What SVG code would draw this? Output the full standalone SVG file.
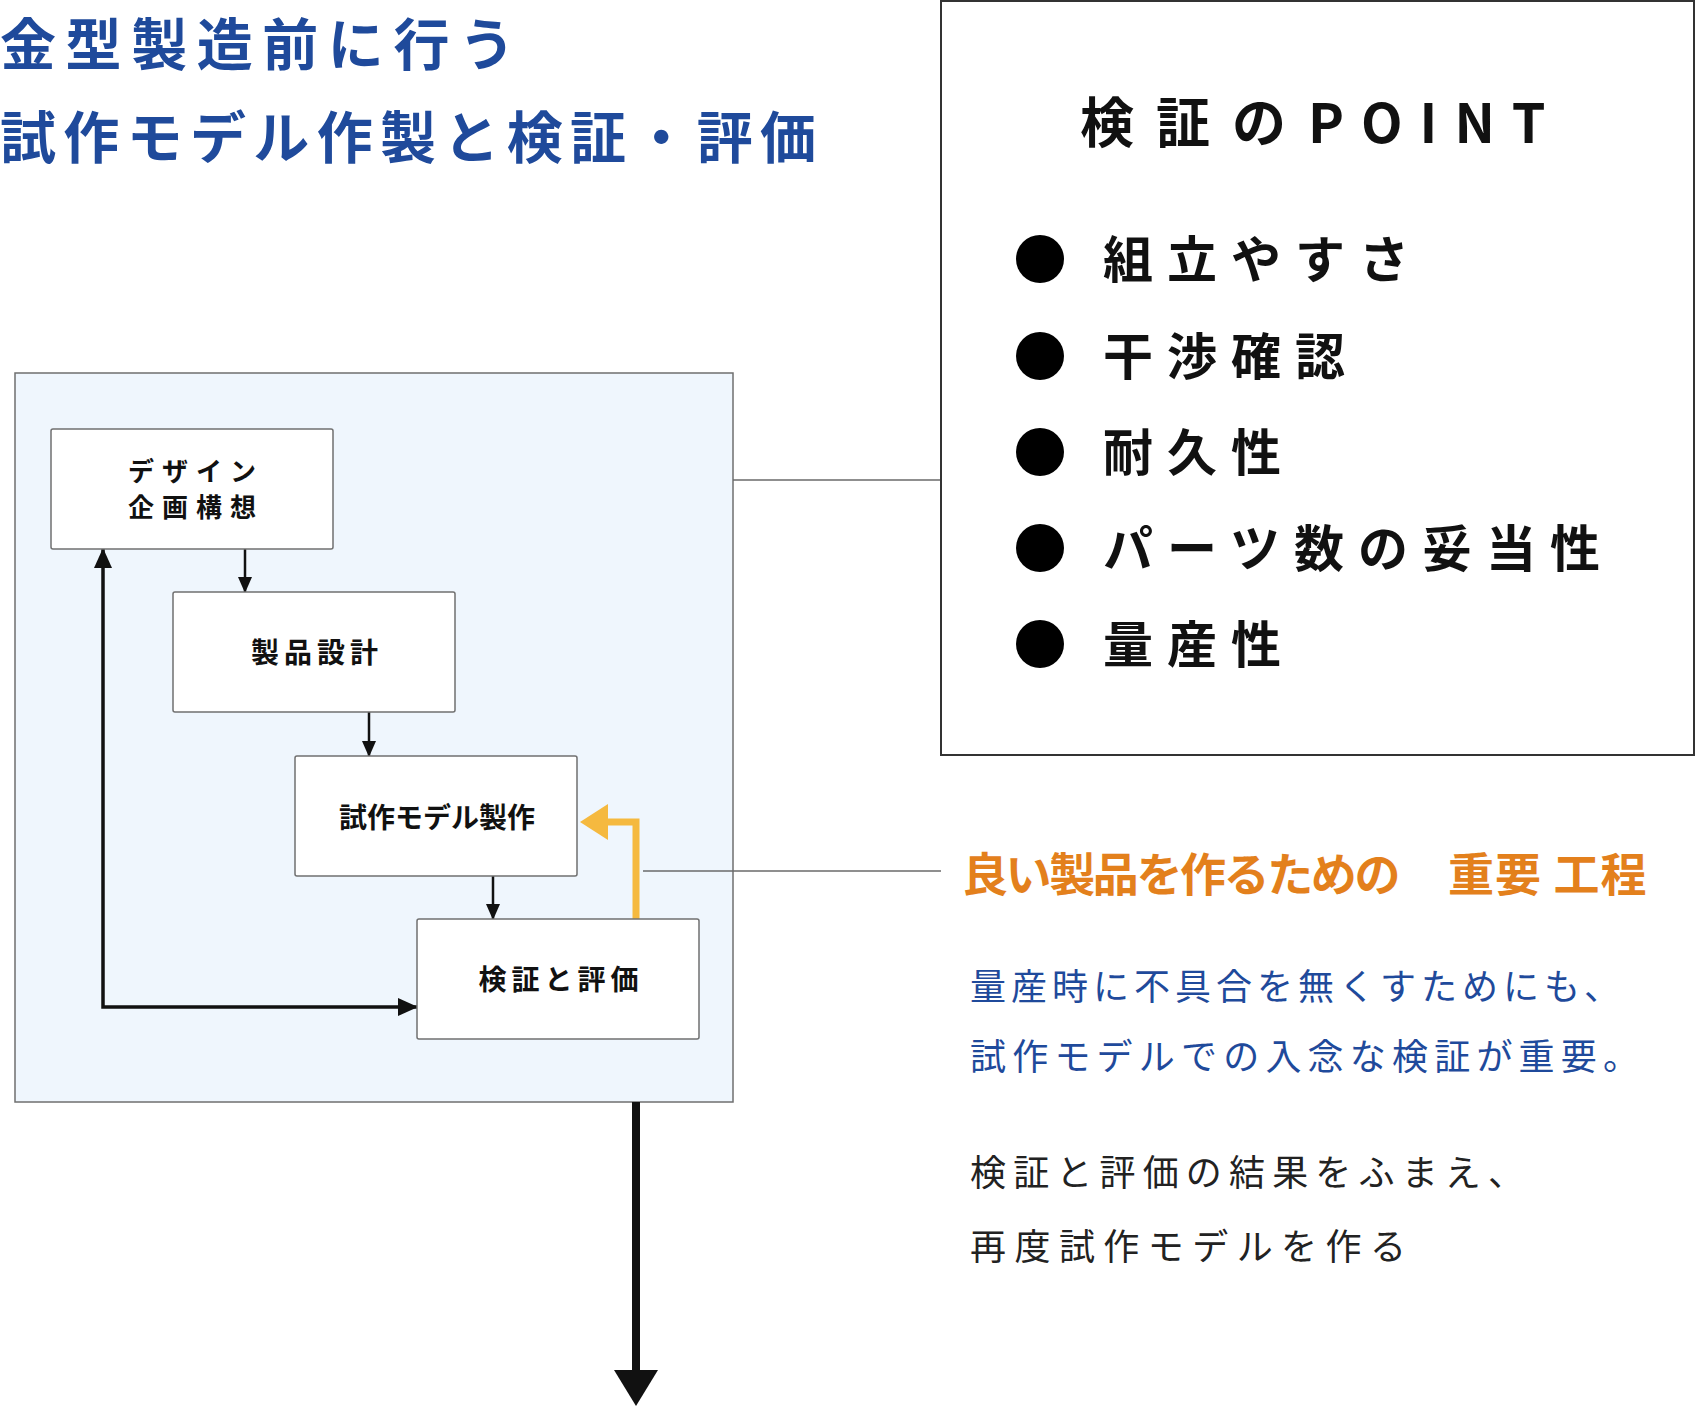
<svg xmlns="http://www.w3.org/2000/svg" width="1695" height="1408" viewBox="0 0 1695 1408">
<style>
text{font-family:"Noto Sans CJK JP","Noto Sans CJK SC",sans-serif}
.title{font-size:56px;font-weight:700;fill:#1f4a9b}
.node rect{fill:#fff;stroke:#707070;stroke-width:1.5}
.nt{font-size:28px;font-weight:700;fill:#111;text-anchor:middle}
.nt2{font-size:26px;font-weight:700;fill:#111;text-anchor:middle;letter-spacing:8px}
.thin{stroke:#111;stroke-width:2.5;fill:none}
.loop{stroke:#111;stroke-width:3.5;fill:none}
.lead{stroke:#6a6a6a;stroke-width:1.5;fill:none}
.orange{stroke:#f5b93f;stroke-width:7;fill:none}
.pt{font-size:54px;font-weight:700;fill:#111;letter-spacing:22px}
.item{font-size:50px;font-weight:700;fill:#111;letter-spacing:14px}
.bul{fill:#000}
.head{font-size:46px;font-weight:700;fill:#e3801c}
.blue{font-size:36px;fill:#1f4a9b}
.black{font-size:36px;fill:#222}
</style>
<defs>
<marker id="ah" markerUnits="userSpaceOnUse" markerWidth="16" markerHeight="16" viewBox="0 0 16 16" refX="15" refY="8" orient="auto"><path d="M0,1 L16,8 L0,15 z" fill="#111"/></marker>
<marker id="ahl" markerUnits="userSpaceOnUse" markerWidth="20" markerHeight="20" viewBox="0 0 20 20" refX="19" refY="10" orient="auto-start-reverse"><path d="M0,1 L20,10 L0,19 z" fill="#111"/></marker>
<marker id="aho" markerUnits="userSpaceOnUse" markerWidth="30" markerHeight="40" viewBox="0 0 30 40" refX="2" refY="20" orient="auto"><path d="M0,2 L28,20 L0,38 z" fill="#f5b93f"/></marker>
</defs>

<g id="titles">
<text class="title" x="0" y="65" textLength="515" lengthAdjust="spacing">金型製造前に行う</text>
<text class="title" x="0" y="158" textLength="816" lengthAdjust="spacing">試作モデル作製と検証・評価</text>
</g>

<g id="process-frame">
<rect x="15" y="373" width="718" height="729" fill="#eff6fd" stroke="#6f6f6f" stroke-width="1.5"/>
</g>

<g id="connectors">
<line class="thin" x1="245" y1="549" x2="245" y2="592" marker-end="url(#ah)"/>
<line class="thin" x1="369" y1="712" x2="369" y2="756" marker-end="url(#ah)"/>
<line class="thin" x1="493" y1="876" x2="493" y2="919" marker-end="url(#ah)"/>
<path class="loop" d="M417,1007 H103 V549" marker-start="url(#ahl)" marker-end="url(#ahl)"/>
<path class="orange" d="M636,919 V822 H606" marker-end="url(#aho)"/>
<line x1="636" y1="1102" x2="636" y2="1372" stroke="#111" stroke-width="8"/>
<polygon points="614,1370 658,1370 636,1406" fill="#111"/>
<line class="lead" x1="733" y1="480" x2="941" y2="480"/>
<line class="lead" x1="643" y1="871" x2="941" y2="871"/>
</g>

<g id="node-design" class="node">
<rect x="51" y="429" width="282" height="120" rx="2"/>
<text class="nt2" x="196" y="481">デザイン</text>
<text class="nt2" x="196" y="517">企画構想</text>
</g>
<g id="node-product" class="node">
<rect x="173" y="592" width="282" height="120" rx="2"/>
<text class="nt" x="317" y="663" letter-spacing="5">製品設計</text>
</g>
<g id="node-prototype" class="node">
<rect x="295" y="756" width="282" height="120" rx="2"/>
<text class="nt" x="437" y="828">試作モデル製作</text>
</g>
<g id="node-verify" class="node">
<rect x="417" y="919" width="282" height="120" rx="2"/>
<text class="nt" x="561" y="990" letter-spacing="5">検証と評価</text>
</g>

<g id="point-box">
<rect x="941" y="1" width="753" height="754" fill="#fff" stroke="#333" stroke-width="2"/>
<text class="pt" x="1080" y="143">検証の<tspan letter-spacing="17">POINT</tspan></text>
<circle class="bul" cx="1040" cy="259" r="24"/>
<text class="item" x="1103" y="278">組立やすさ</text>
<circle class="bul" cx="1040" cy="356" r="24"/>
<text class="item" x="1103" y="375">干渉確認</text>
<circle class="bul" cx="1040" cy="452" r="24"/>
<text class="item" x="1103" y="471">耐久性</text>
<circle class="bul" cx="1040" cy="548" r="24"/>
<text class="item" x="1103" y="567">パーツ数の妥当性</text>
<circle class="bul" cx="1040" cy="644" r="24"/>
<text class="item" x="1103" y="663">量産性</text>
</g>

<g id="note">
<text class="head" x="962" y="891"><tspan letter-spacing="-2.4">良い製品を作るための　</tspan><tspan x="1448" letter-spacing="1">重要 工程</tspan></text>
<text class="blue" x="970" y="1000" textLength="650" lengthAdjust="spacing">量産時に不具合を無くすためにも、</text>
<text class="blue" x="970" y="1070" textLength="669" lengthAdjust="spacing">試作モデルでの入念な検証が重要。</text>
<text class="black" x="970" y="1186" textLength="554" lengthAdjust="spacing">検証と評価の結果をふまえ、</text>
<text class="black" x="970" y="1260" textLength="436" lengthAdjust="spacing">再度試作モデルを作る</text>
</g>
</svg>
